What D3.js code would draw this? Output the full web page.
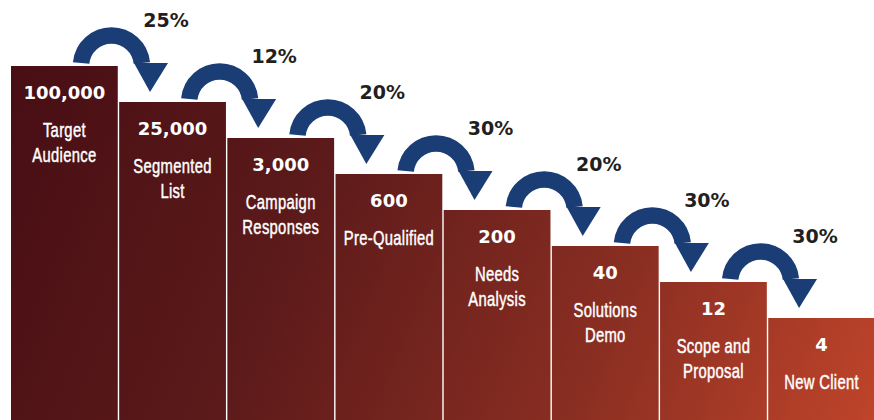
<!DOCTYPE html>
<html>
<head>
<meta charset="utf-8">
<script src="https://cdn.jsdelivr.net/npm/d3@7"></script>
<style>
  body { margin: 0; background: #fff; }
  svg { display: block; }
  .num { font-family: "DejaVu Sans", sans-serif; font-weight: bold; font-size: 18px; fill: #fff; }
  .lbl { font-family: "Liberation Sans", Arial, sans-serif; font-size: 19.5px; fill: #fff; stroke: #fff; stroke-width: 0.45px; letter-spacing: 0.4px; }
  .pct { font-family: "DejaVu Sans", sans-serif; font-weight: bold; font-size: 19px; fill: #231f20; }
</style>
</head>
<body>
<div id="vis"></div>
<script>
// funnel stages, left to right
var labels = [["Target", "Audience"], ["Segmented", "List"], ["Campaign", "Responses"], ["Pre-Qualified"],
	["Needs", "Analysis"], ["Solutions", "Demo"], ["Scope and", "Proposal"], ["New Client"]];
var counts = [100000, 25000, 3000, 600, 200, 40, 12, 4];
// conversion between stage i and i+1
var rates = [0.25, 0.12, 0.20, 0.30, 0.20, 0.30, 0.30];

var width = 874,
	height = 420;

var svg = d3.select('#vis')
	.append('svg')
	.attr('width', width)
	.attr('height', height);

var x = d3.scaleBand()
	.domain(d3.range(counts.length))
	.range([11, 875])
	.paddingInner(0.013)
	.paddingOuter(0);

// staircase: each step drops by the same amount
var y = d3.scaleLinear()
	.domain([0, counts.length - 1])
	.range([66, 318]);

var fmt = d3.format(",");
var pct = d3.format(".0%");

var defs = svg.append('defs');
var grad = defs.append('linearGradient')
	.attr('id', 'barGrad')
	.attr('gradientUnits', 'userSpaceOnUse')
	.attr('x1', 11).attr('y1', 60)
	.attr('x2', 874).attr('y2', 420);
grad.append('stop').attr('offset', 0).attr('stop-color', '#470e14');
grad.append('stop').attr('offset', 0.35).attr('stop-color', '#5c1a1a');
grad.append('stop').attr('offset', 0.7).attr('stop-color', '#8a2e22');
grad.append('stop').attr('offset', 1).attr('stop-color', '#bf442a');

var bw = x.bandwidth();

var bars = svg.selectAll('g.stage')
	.data(counts)
	.enter()
	.append('g')
	.attr('class', 'stage');

bars.append('rect')
	.attr('x', function(d, i) { return x(i); })
	.attr('y', function(d, i) { return y(i); })
	.attr('width', bw)
	.attr('height', function(d, i) { return height - y(i) + 5; })
	.style('fill', 'url(#barGrad)');

bars.append('text')
	.attr('class', 'num')
	.attr('text-anchor', 'middle')
	.attr('x', function(d, i) { return x(i) + bw / 2; })
	.attr('y', function(d, i) { return y(i) + 33; })
	.text(function(d) { return fmt(d); });

// condensed look: squeeze the label text horizontally
bars.each(function(d, i) {
	d3.select(this).selectAll('text.lbl')
		.data(labels[i])
		.enter()
		.append('text')
		.attr('class', 'lbl')
		.attr('text-anchor', 'middle')
		.attr('transform', function(t, j) {
			return 'translate(' + (x(i) + bw / 2) + ',' + (y(i) + 71 + j * 25) + ') scale(0.76,1)';
		})
		.text(function(t) { return t; });
});

// curved arrows between steps
var arrowCol = '#1b3d76';
var r = 30.5;
var arrows = svg.selectAll('g.arrow')
	.data(rates)
	.enter()
	.append('g')
	.attr('class', 'arrow');

arrows.append('path')
	.attr('d', function(d, i) {
		var cx = x(i) + 100.5, yb = y(i) - 3;
		var dx = Math.sqrt(r * r - 9);
		return 'M' + (cx - dx) + ',' + yb + ' A' + r + ',' + r + ' 0 0 1 ' + (cx + dx) + ',' + yb;
	})
	.style('fill', 'none')
	.style('stroke', arrowCol)
	.style('stroke-width', 16.5);

arrows.append('path')
	.attr('d', function(d, i) {
		var hx = x(i) + 140, yb = y(i) - 3;
		return 'M' + (hx - 17) + ',' + yb + 'L' + (hx + 17) + ',' + yb + 'L' + (hx - 1) + ',' + (y(i + 1) - 10) + 'Z';
	})
	.style('fill', arrowCol);

arrows.append('text')
	.attr('class', 'pct')
	.attr('text-anchor', 'middle')
	.attr('x', function(d, i) { return x(i) + 155; })
	.attr('y', function(d, i) { return y(i) - 39; })
	.text(function(d) { return pct(d); });
</script>
</body>
</html>
